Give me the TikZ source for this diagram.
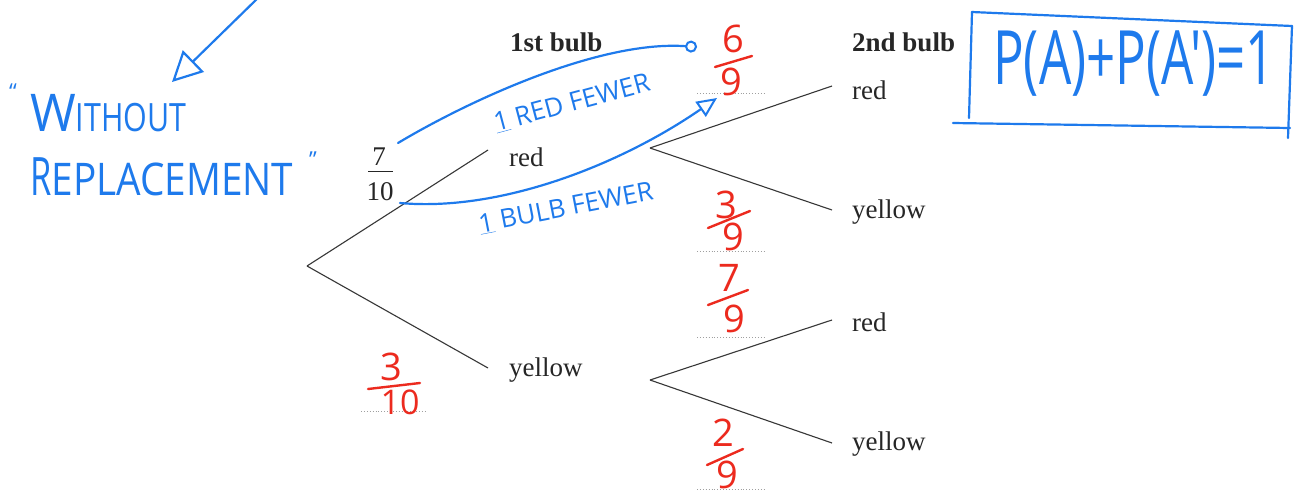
\documentclass[tikz,border=0pt]{standalone}
\usepackage{fontspec}
\setmainfont{Liberation Serif}
\newfontfamily\hand{Open Sans}
\usetikzlibrary{arrows.meta}
\definecolor{inkblue}{RGB}{30,122,236}
\definecolor{inkred}{RGB}{236,42,30}
\definecolor{branch}{RGB}{55,55,55}

\begin{document}
\begin{tikzpicture}[x=1pt,y=-1pt,
  branchline/.style={draw=branch,line width=1.1pt},
  label/.style={font=\fontsize{27}{30}\selectfont, text=black!85, inner sep=0pt},
  head/.style={inner sep=0pt, text=black!85, font=\fontsize{27}{30}\selectfont\bfseries},
  blank/.style={draw=gray!75, dotted, line width=0.9pt},
  redink/.style={text=inkred, font=\hand\fontsize{38}{38}\selectfont, inner sep=0pt},
  redstroke/.style={draw=inkred, line width=2.4pt, line cap=round},
  blueink/.style={text=inkblue, font=\hand\fontsize{26}{26}\selectfont, inner sep=0pt},
  bluestroke/.style={draw=inkblue, line width=2.2pt, line cap=round},
]
\useasboundingbox (0,0) rectangle (1296,496);
\fill[white] (0,0) rectangle (1296,496);

% ---- headings
\node[head, anchor=west] (h1) at (510,42) {1st bulb};
\node[head, anchor=west] (h2) at (852,42) {2nd bulb};

% ---- first stage
\coordinate (root) at (307,266);
\coordinate (e1) at (488,150);
\coordinate (e2) at (488,368);
\node[label, anchor=west] (r1) at (509,157) {red};
\node[label, anchor=west] (y1) at (509,370) {yellow};
\draw[branchline] (root) -- (e1);
\draw[branchline] (root) -- (e2);

% ---- second stage after red
\coordinate (v1) at (650,148);
\coordinate (e11) at (832,86);
\coordinate (e12) at (832,210);
\node[label, anchor=west] (rr) at (852,90) {red};
\node[label, anchor=west] (ry) at (852,212) {yellow};
\draw[branchline] (v1) -- (e11);
\draw[branchline] (v1) -- (e12);

% ---- second stage after yellow
\coordinate (v2) at (650,380);
\coordinate (e21) at (832,320);
\coordinate (e22) at (832,443);
\node[label, anchor=west] (yr) at (852,322) {red};
\node[label, anchor=west] (yy) at (852,444) {yellow};
\draw[branchline] (v2) -- (e21);
\draw[branchline] (v2) -- (e22);

% ---- printed probability 7/10
\node[label, anchor=base] (p7) at (379,165) {7};
\node[label, anchor=base] (p10) at (380,200) {10};
\draw[draw=black!85, line width=1pt] (368,171) -- (393,171);

% ---- answer blanks
\draw[blank] (697,93) -- (765,93);
\draw[blank] (697,251) -- (765,251);
\draw[blank] (697,337) -- (765,337);
\draw[blank] (697,489) -- (765,489);
\draw[blank] (361,411) -- (427,411);

% ---- red handwritten fractions
\node[redink] (n69) at (733,39) {6};
\draw[redstroke] (715,67) -- (752,56);
\node[redink] (d69) at (731,82) {9};

\node[redink] (n39) at (726,205) {3};
\draw[redstroke] (708,228) -- (750,211);
\node[redink] (d39) at (733,237) {9};

\node[redink] (n79) at (729,278) {7};
\draw[redstroke] (708,305) -- (748,290);
\node[redink] (d79) at (734,319) {9};

\node[redink] (n29) at (723,433) {2};
\draw[redstroke] (707,465) -- (743,449);
\node[redink] (d29) at (727,475) {9};

\node[redink] (n310) at (391,367) {3};
\draw[redstroke] (368,389) -- (420,383);
\node[redink, font=\hand\fontsize{34}{34}\selectfont] (d310) at (400,402) {10};

% ---- blue notes
\coordinate (a0) at (260,-4);
\coordinate (a1) at (172,82);
\draw[bluestroke, -{Triangle[open,length=30pt,width=30pt,line width=2.2pt]}] (a0) -- (a1);

\node[blueink, font=\hand\fontsize{22}{22}\selectfont, anchor=north west] (q1) at (9,84) {“};
\node[blueink, anchor=base west] (wo) at (30,131)
  {\scalebox{0.95}[1]{\fontsize{52}{52}\selectfont W}\scalebox{0.78}[1]{\fontsize{39}{39}\selectfont ITHOUT}};
\node[blueink, anchor=base west] (rp) at (30,195)
  {\scalebox{0.65}[1]{\fontsize{53}{53}\selectfont R}\scalebox{0.86}[1]{\fontsize{45}{45}\selectfont EPLACEMENT}};
\node[blueink, font=\hand\fontsize{22}{22}\selectfont, anchor=north west] (q2) at (309,152) {”};

\coordinate (s1) at (398,143);
\coordinate (t1) at (697,47);
\draw[bluestroke, -{Circle[open,length=12pt,line width=2pt]}] (s1) .. controls (470,100) and (600,40) .. (t1);
\node[blueink, rotate=15] (fewer1) at (572,103) {\underline{1} RED FEWER};

\coordinate (s2) at (400,203);
\coordinate (t2) at (717,98);
\draw[bluestroke, -{Triangle[open,length=20pt,width=18pt,line width=2pt]}] (s2) .. controls (500,212) and (620,165) .. (t2);
\node[blueink, rotate=11] (fewer2) at (566,208) {\underline{1} BULB FEWER};

% ---- complement rule in a hand-drawn box
\node[blueink, font=\hand\fontsize{75}{75}\selectfont] (rule) at (1134,64) {\scalebox{0.68}[1]{P(A)+P(A')=1}};
\draw[bluestroke] (972,12) -- (1292,26);
\draw[bluestroke] (972,12) -- (969,118);
\draw[bluestroke] (1292,26) -- (1288,138);
\draw[bluestroke] (953,123) -- (1290,128);
\end{tikzpicture}
\end{document}
